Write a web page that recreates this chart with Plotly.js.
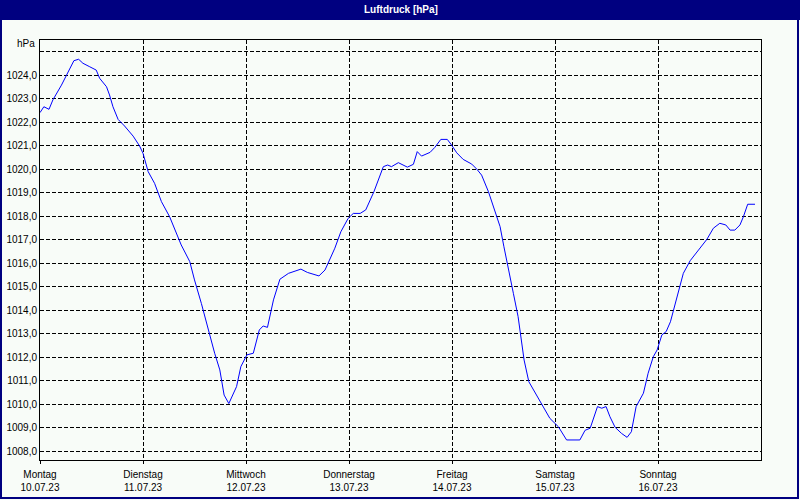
<!DOCTYPE html>
<html>
<head>
<meta charset="utf-8">
<script src="https://cdn.plot.ly/plotly-3.0.1.min.js"></script>
<style>
html,body{margin:0;padding:0;background:#f8fcf8;}
#chart{width:800px;height:500px;}
</style>
</head>
<body>
<div id="chart"></div>
<script>
// Time in hours since Montag 10.07.23 00:00
const hours = [0,0.9,2.1,3.0,5.0,6.9,7.9,9.0,10.0,11.6,13.1,13.9,15.5,16.2,17.0,18.2,19.7,21.7,23.2,24.0,25.2,26.7,28.3,30.2,31.4,32.9,34.9,36.0,37.6,39.1,40.7,41.9,42.9,44.0,45.8,46.8,48.2,49.7,51.1,52.0,53.0,54.4,55.9,57.9,60.8,62.3,65.0,66.4,68.7,70.1,71.8,73.0,74.6,75.9,77.8,80.0,81.0,81.9,83.5,85.6,87.0,87.9,88.9,90.9,92.0,93.4,94.9,95.9,97.1,98.6,100.6,101.8,102.9,104.5,106.0,107.2,108.1,109.1,110.3,111.4,112.0,112.8,113.9,115.7,117.3,118.8,120.8,122.7,125.8,127.0,128.2,129.1,129.9,130.9,131.9,132.8,134.0,135.5,136.8,137.8,138.9,140.6,141.7,142.9,143.8,144.9,145.9,146.9,148.0,149.1,149.9,151.5,153.4,155.4,156.9,158.4,159.8,160.8,161.9,163.1,163.9,164.9,166.6];
const pressure = [1022.40,1022.65,1022.54,1022.94,1023.57,1024.29,1024.61,1024.67,1024.50,1024.35,1024.21,1023.86,1023.50,1023.15,1022.65,1022.11,1021.83,1021.40,1020.98,1020.67,1019.89,1019.39,1018.61,1017.97,1017.40,1016.77,1016.06,1015.28,1014.28,1013.22,1012.16,1011.45,1010.38,1010.02,1010.74,1011.59,1012.09,1012.16,1013.15,1013.32,1013.26,1014.43,1015.31,1015.56,1015.74,1015.60,1015.45,1015.70,1016.63,1017.33,1017.90,1018.11,1018.11,1018.26,1019.03,1020.10,1020.17,1020.10,1020.27,1020.08,1020.20,1020.74,1020.55,1020.71,1020.92,1021.26,1021.26,1021.02,1020.69,1020.41,1020.21,1019.99,1019.74,1019.03,1018.26,1017.55,1016.69,1015.84,1014.71,1013.72,1012.86,1011.87,1010.95,1010.38,1009.89,1009.39,1009.03,1008.47,1008.47,1008.88,1008.97,1009.46,1009.89,1009.82,1009.89,1009.46,1009.01,1008.75,1008.58,1008.82,1009.89,1010.46,1011.31,1012.01,1012.30,1012.94,1013.08,1013.50,1014.28,1014.99,1015.56,1016.10,1016.52,1017.01,1017.48,1017.69,1017.62,1017.40,1017.40,1017.62,1017.97,1018.50,1018.50];

const dayNames = ["Montag","Dienstag","Mittwoch","Donnerstag","Freitag","Samstag","Sonntag"];
const dayDates = ["10.07.23","11.07.23","12.07.23","13.07.23","14.07.23","15.07.23","16.07.23"];
const dayHours = [0,24,48,72,96,120,144];
const yTickVals = [1008,1009,1010,1011,1012,1013,1014,1015,1016,1017,1018,1019,1020,1021,1022,1023,1024,1025];
const yTickText = ["1008,0","1009,0","1010,0","1011,0","1012,0","1013,0","1014,0","1015,0","1016,0","1017,0","1018,0","1019,0","1020,0","1021,0","1022,0","1023,0","1024,0",""];

const titleText = "Luftdruck [hPa]";
const unitText = "hPa";

// pixel helpers for decoration placement (plot area 40..761 x 40..460)
const L = 40, R = 39, T = 40, B = 40, W = 800 - L - R, H = 500 - T - B;
const px = p => (p - L) / W;
const py = p => (500 - B - p) / H;

const FONT = "Liberation Sans, Arial, sans-serif";

const trace = {
  x: hours, y: pressure, type: "scatter", mode: "lines",
  line: {color: "#0000ff", width: 1}, hoverinfo: "x+y"
};

const layout = {
  width: 800, height: 500,
  margin: {l: L, r: R, t: T, b: B, pad: 0},
  paper_bgcolor: "#f8fcf8", plot_bgcolor: "#f8fcf8",
  showlegend: false,
  font: {family: FONT, size: 10, color: "#000000"},
  xaxis: {
    range: [0, 168], fixedrange: true,
    tickmode: "array", tickvals: dayHours,
    ticktext: dayNames.map((d, i) => d + "<br>" + dayDates[i]),
    showgrid: true, gridcolor: "#000000", gridwidth: 1, griddash: "4px,2px",
    zeroline: false, showline: true, mirror: true, linecolor: "#000000", linewidth: 1,
    ticks: "outside", ticklen: 3, tickcolor: "#000000", tickwidth: 1,
    ticklabelstandoff: 2,
    tickfont: {family: FONT, size: 10, color: "#000000"}
  },
  yaxis: {
    range: [1007.617, 1025.49], fixedrange: true,
    tickmode: "array", tickvals: yTickVals, ticktext: yTickText,
    showgrid: true, gridcolor: "#000000", gridwidth: 1, griddash: "4px,2px",
    zeroline: false, showline: true, mirror: true, linecolor: "#000000", linewidth: 1,
    ticks: "", ticklen: 0,
    tickfont: {family: FONT, size: 10, color: "#000000"}
  },
  shapes: [
    {type: "rect", xref: "paper", yref: "paper", x0: px(0), x1: px(800), y0: py(20), y1: py(0),
     fillcolor: "#000080", line: {width: 0}, layer: "above"},
    {type: "rect", xref: "paper", yref: "paper", x0: px(1), x1: px(798), y0: py(498), y1: py(1),
     fillcolor: "rgba(0,0,0,0)", line: {color: "#000080", width: 2}, layer: "above"}
  ],
  annotations: [
    {text: "<b>" + titleText + "</b>", xref: "paper", yref: "paper", x: px(401), y: py(9.5),
     xanchor: "center", yanchor: "middle", showarrow: false,
     font: {family: FONT, size: 10, color: "#ffffff"}},
    {text: unitText, xref: "paper", yref: "y", x: 0, y: 1025.32, xanchor: "right", yanchor: "middle",
     xshift: -3, showarrow: false, font: {family: FONT, size: 10, color: "#000000"}}
  ]
};

Plotly.newPlot("chart", [trace], layout, {displayModeBar: false, staticPlot: true});
</script>
</body>
</html>
